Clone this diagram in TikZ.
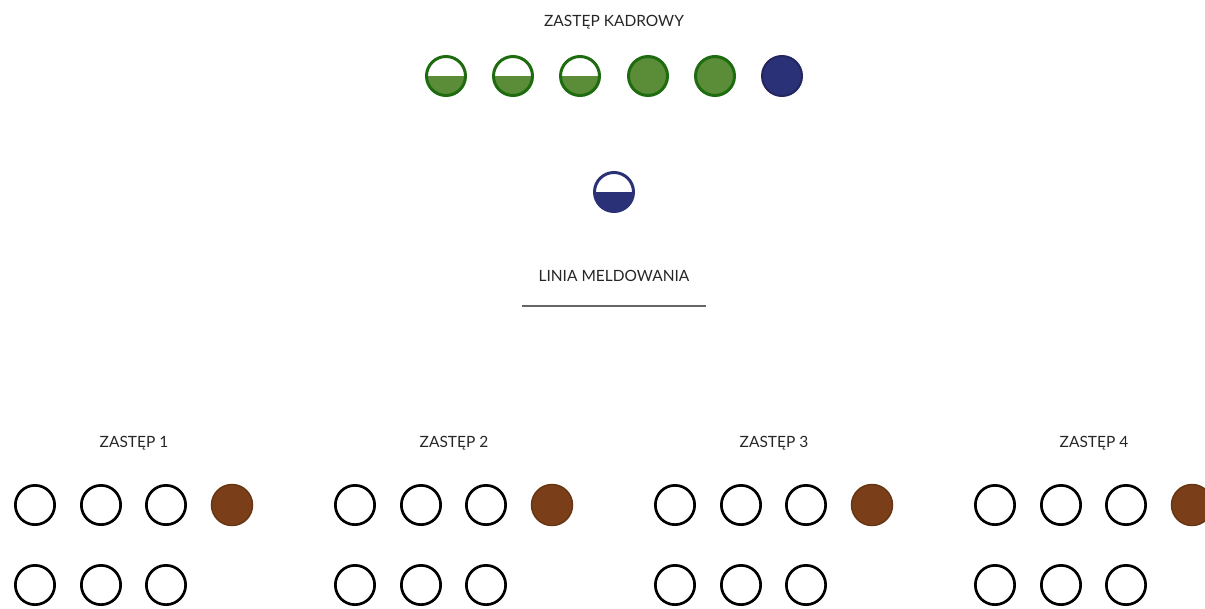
\documentclass[tikz,border=0pt]{standalone}
\usepackage{fontspec}
\setmainfont{Lato}
\usetikzlibrary{positioning}

\definecolor{grassgreen}{HTML}{5B8C38}
\definecolor{leafdark}{HTML}{1E6B10}
\definecolor{navyblue}{HTML}{2A3176}
\definecolor{rustbrown}{HTML}{7A3F18}

\begin{document}
\begin{tikzpicture}[x=1pt,y=-1pt,
  caption/.style={font=\fontsize{15.5}{18}\selectfont, text=black!85},
  scout/.style={circle, draw=black, line width=2.7pt, minimum size=39.3pt, inner sep=0pt},
  halfgreen/.style={scout, draw=leafdark, line width=3pt, minimum size=39pt,
    path picture={\fill[grassgreen] (path picture bounding box.west) rectangle (path picture bounding box.south east);}},
  fullgreen/.style={scout, draw=leafdark, fill=grassgreen, line width=3pt, minimum size=39pt},
  fullnavy/.style={scout, draw=navyblue!80!black, fill=navyblue, line width=2pt, minimum size=40pt},
  halfnavy/.style={scout, draw=navyblue, line width=3pt, minimum size=39pt,
    path picture={\fill[navyblue] (path picture bounding box.west) rectangle (path picture bounding box.south east);}},
  leader/.style={scout, draw=rustbrown!85!black, fill=rustbrown, line width=1.5pt, minimum size=41pt}]

\clip (0,0) rectangle (1205,608);
\useasboundingbox (0,0) rectangle (1205,608);

% Cadre patrol
\node[caption] (kadra) at (614,22) {ZASTĘP KADROWY};
\foreach \x [count=\i] in {446,513,580} {
  \node[halfgreen] (k\i) at (\x,76) {};
}
\node[fullgreen] (k4) at (648,76) {};
\node[fullgreen] (k5) at (715,76) {};
\node[fullnavy] (k6) at (782,76) {};

% Commander
\node[halfnavy] (komendant) at (614,192) {};

% Reporting line
\node[caption] (linia) at (614,276) {LINIA MELDOWANIA};
\coordinate (liniaL) at (522,306);
\coordinate (liniaR) at (706,306);
\draw[black!60, line width=1.5pt] (liniaL) -- (liniaR);

% Patrols 1-4
\foreach \z in {1,2,3,4}
{
  \pgfmathsetmacro{\dx}{(\z-1)*320}
  \node[caption] (zastep\z) at (134+\dx,443) {ZASTĘP \z};
  \foreach \x [count=\i] in {35,101,166}
  {
    \node[scout] (z\z a\i) at (\x+\dx,505) {};
    \node[scout] (z\z b\i) at (\x+\dx,585) {};
  }
  \node[leader] (z\z boss) at (232+\dx,505) {};
}

\end{tikzpicture}
\end{document}
